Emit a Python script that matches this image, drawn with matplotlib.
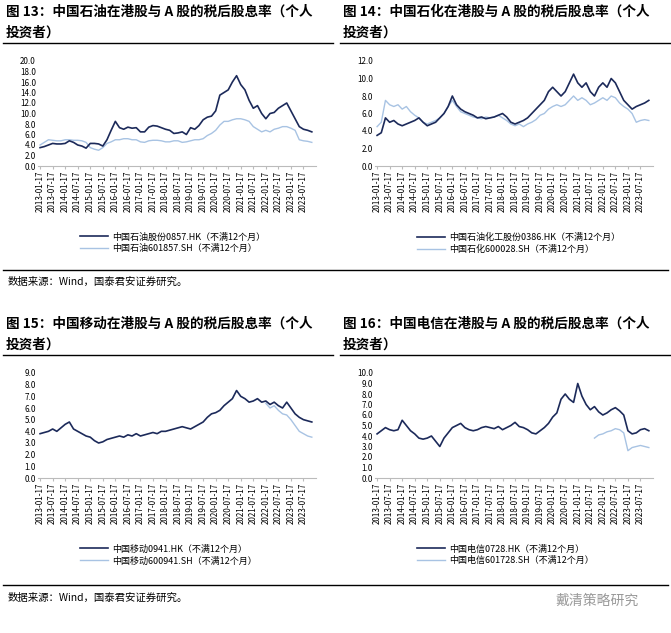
import numpy as np
import matplotlib.pyplot as plt
from matplotlib.lines import Line2D

plt.rcParams["font.family"] = ["Noto Sans CJK SC", "DejaVu Sans"]

NAVY = "#1c2a5a"
LIGHT = "#a8c3e3"

# bimonthly readings, 2013-01 .. 2023-11
months = np.arange(0, 132, 2)
tick_labels = ["%d-%02d-17" % (2013 + i // 2, 1 if i % 2 == 0 else 7) for i in range(22)]

petro_hk = [3.5, 3.7, 4.0, 4.3, 4.2, 4.2, 4.3, 4.8, 4.5, 4.0, 3.8, 3.4,
            4.3, 4.3, 4.2, 3.8, 5.0, 6.8, 8.5, 7.3, 7.0, 7.4, 7.2, 7.3,
            6.5, 6.5, 7.4, 7.7, 7.6, 7.3, 7.0, 6.8, 6.2, 6.3, 6.5, 6.0,
            7.3, 7.0, 7.7, 8.8, 9.3, 9.5, 10.5, 13.5, 14.0, 14.5, 16.0, 17.2,
            15.5, 14.5, 12.5, 11.0, 11.5, 10.0, 9.0, 10.0, 10.2, 11.0, 11.5, 12.0,
            10.5, 9.0, 7.5, 7.0, 6.8, 6.5]
petro_a = [4.0, 4.5, 5.0, 4.9, 4.8, 4.8, 5.0, 5.0, 4.9, 4.9, 4.8, 4.5,
           3.5, 3.2, 3.0, 3.5, 4.3, 4.6, 5.0, 5.0, 5.2, 5.2, 5.0, 5.0,
           4.6, 4.5, 4.8, 4.9, 4.9, 4.8, 4.6, 4.6, 4.8, 4.8, 4.5, 4.6,
           4.8, 5.0, 5.0, 5.2, 5.8, 6.2, 6.8, 7.8, 8.5, 8.5, 8.8, 9.0,
           9.0, 8.8, 8.5, 7.5, 7.0, 6.5, 6.8, 6.5, 7.0, 7.2, 7.5, 7.5,
           7.2, 6.8, 5.0, 4.8, 4.7, 4.5]

sino_hk = [3.5, 3.8, 5.5, 5.0, 5.2, 4.8, 4.6, 4.8, 5.0, 5.2, 5.5, 5.0,
           4.6, 4.8, 5.0, 5.5, 6.0, 6.8, 8.0, 7.0, 6.5, 6.2, 6.0, 5.8,
           5.5, 5.6, 5.4, 5.5, 5.6, 5.8, 6.0, 5.6, 5.0, 4.8, 5.0, 5.2,
           5.5, 6.0, 6.5, 7.0, 7.5, 8.5, 9.0, 8.5, 8.0, 8.5, 9.5, 10.5,
           9.5, 9.0, 9.5, 8.5, 8.0, 9.0, 9.5, 9.0, 10.0, 9.5, 8.5, 7.5,
           7.0, 6.5, 6.8, 7.0, 7.2, 7.5]
sino_a = [4.5, 5.0, 7.5, 7.0, 6.8, 7.0, 6.5, 6.8, 6.2, 5.8, 5.5, 5.0,
          4.8, 5.0, 5.2, 5.5, 6.0, 6.8, 7.5, 6.8, 6.2, 6.0, 5.8, 5.6,
          5.5, 5.4, 5.6, 5.5, 5.6, 5.8, 5.5, 5.2, 4.8, 4.6, 4.8, 4.5,
          4.8, 5.0, 5.3, 5.8, 6.0, 6.5, 6.8, 7.0, 6.8, 7.0, 7.5, 8.0,
          7.5, 7.8, 7.5, 7.0, 7.2, 7.5, 7.8, 7.5, 8.0, 7.8, 7.2, 6.8,
          6.5, 6.0, 5.0, 5.2, 5.3, 5.2]

mob_hk = [3.8, 3.9, 4.0, 4.2, 4.0, 4.3, 4.6, 4.8, 4.2, 4.0, 3.8, 3.6,
          3.5, 3.2, 3.0, 3.1, 3.3, 3.4, 3.5, 3.6, 3.5, 3.7, 3.6, 3.8,
          3.6, 3.7, 3.8, 3.9, 3.8, 4.0, 4.0, 4.1, 4.2, 4.3, 4.4, 4.3,
          4.2, 4.4, 4.6, 4.8, 5.2, 5.5, 5.6, 5.8, 6.2, 6.5, 6.8, 7.5,
          7.0, 6.8, 6.5, 6.6, 6.8, 6.5, 6.6, 6.3, 6.5, 6.2, 6.0, 6.5,
          6.0, 5.5, 5.2, 5.0, 4.9, 4.8]
mob_a = [np.nan] * 54 + [6.4, 6.0, 6.2, 5.8, 5.5, 5.4,
                         5.0, 4.5, 4.0, 3.8, 3.6, 3.5]

tel_hk = [4.2, 4.5, 4.8, 4.6, 4.5, 4.6, 5.5, 5.0, 4.5, 4.2, 3.8, 3.7,
          3.8, 4.0, 3.5, 3.0, 3.8, 4.3, 4.8, 5.0, 5.2, 4.8, 4.6, 4.5,
          4.6, 4.8, 4.9, 4.8, 4.7, 4.9, 4.6, 4.8, 5.0, 5.3, 4.9, 4.8,
          4.6, 4.3, 4.2, 4.5, 4.8, 5.2, 5.8, 6.2, 7.5, 8.0, 7.5, 7.2,
          9.0, 7.8, 7.0, 6.5, 6.8, 6.3, 6.0, 6.2, 6.5, 6.7, 6.4, 6.0,
          4.5, 4.2, 4.3, 4.6, 4.7, 4.5]
tel_a = [np.nan] * 52 + [3.8, 4.1, 4.2, 4.4, 4.5, 4.7, 4.6, 4.3,
                         2.6, 2.9, 3.0, 3.1, 3.0, 2.9]

W, H = 671, 633
fig = plt.figure(figsize=(W / 100, H / 100), dpi=100)


def px(x, y, w, h):
    return [x / W, 1 - (y + h) / H, w / W, h / H]


def panel(x0, y0, title, hk, a, ymax, step, hk_name, a_name):
    # title, two lines
    fig.text((x0 + 6) / W, 1 - (y0 + 12) / H, title[0], fontsize=9.8, weight="bold", va="center")
    fig.text((x0 + 6) / W, 1 - (y0 + 33) / H, title[1], fontsize=9.8, weight="bold", va="center")
    fig.add_artist(Line2D([(x0 + 3) / W, (x0 + 333) / W], [1 - (y0 + 43) / H] * 2,
                          color="black", lw=1))
    ax = fig.add_axes(px(x0 + 38, y0 + 61, 278, 105))
    ax.plot(months, a, color=LIGHT, lw=1.0)
    ax.plot(months, hk, color=NAVY, lw=1.2)
    ax.set_xlim(-1, 132)
    ax.set_ylim(0, ymax)
    ax.set_yticks(np.arange(0, ymax + 0.01, step))
    ax.set_yticklabels(["%.1f" % v for v in np.arange(0, ymax + 0.01, step)])
    ax.set_xticks(np.arange(0, 127, 6))
    ax.set_xticklabels(tick_labels, rotation=90)
    ax.tick_params(labelsize=5.8, length=2, color="#bbbbbb", pad=1.5)
    ax.tick_params(axis="y", length=0)
    for s in ["top", "right", "left"]:
        ax.spines[s].set_visible(False)
    ax.spines["bottom"].set_color("#bbbbbb")
    h1 = Line2D([], [], color=NAVY, lw=1.2)
    h2 = Line2D([], [], color=LIGHT, lw=1.0)
    fig.legend([h1, h2], [hk_name, a_name], loc="upper left",
               bbox_to_anchor=((x0 + 75) / W, 1 - (y0 + 228) / H),
               frameon=False, fontsize=6.5, handlelength=3.2, labelspacing=0.3,
               borderpad=0, handletextpad=0.4)


panel(0, 0, ["图 13：中国石油在港股与 A 股的税后股息率（个人", "投资者）"], petro_hk, petro_a, 20, 2,
      "中国石油股份0857.HK（不满12个月）", "中国石油601857.SH（不满12个月）")
panel(337, 0, ["图 14：中国石化在港股与 A 股的税后股息率（个人", "投资者）"], sino_hk, sino_a, 12, 2,
      "中国石油化工股份0386.HK（不满12个月）", "中国石化600028.SH（不满12个月）")
panel(0, 312, ["图 15：中国移动在港股与 A 股的税后股息率（个人", "投资者）"], mob_hk, mob_a, 9, 1,
      "中国移动0941.HK（不满12个月）", "中国移动600941.SH（不满12个月）")
panel(337, 312, ["图 16：中国电信在港股与 A 股的税后股息率（个人", "投资者）"], tel_hk, tel_a, 10, 1,
      "中国电信0728.HK（不满12个月）", "中国电信601728.SH（不满12个月）")

# bottom rules and source notes
for y in [270, 585]:
    fig.add_artist(Line2D([3 / W, 668 / W], [1 - y / H] * 2, color="black", lw=1))
fig.text(8 / W, 1 - 282 / H, "数据来源：Wind，国泰君安证券研究。", fontsize=7.5, va="center")
fig.text(8 / W, 1 - 598 / H, "数据来源：Wind，国泰君安证券研究。", fontsize=7.5, va="center")
fig.text(555 / W, 1 - 601 / H, "戴清策略研究", fontsize=10, color="#999999", va="center")

fig.savefig("out.png", dpi=100)
